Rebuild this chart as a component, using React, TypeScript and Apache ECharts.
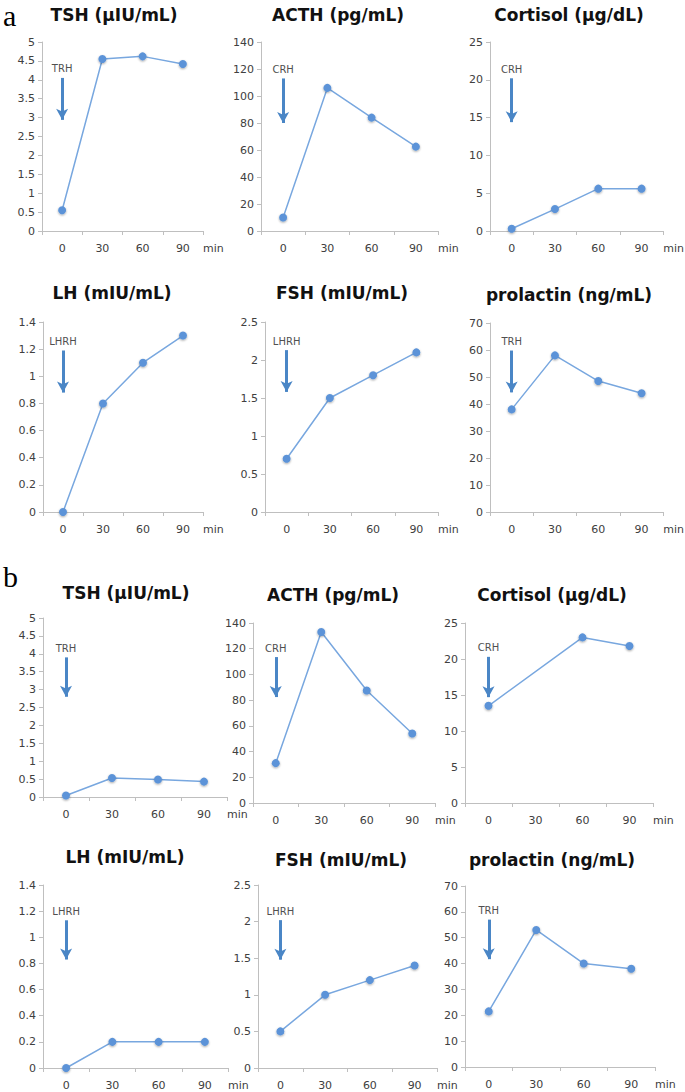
import React, { useEffect, useRef } from 'react';
import * as echarts from 'echarts';

// ---- data ----
const minutes = ['0', '30', '60', '90'];

// panel a (before)
const tshA = [0.55, 4.55, 4.62, 4.42];
const acthA = [10, 106, 84, 62.5];
const cortisolA = [0.3, 2.9, 5.6, 5.6];
const lhA = [0, 0.8, 1.1, 1.3];
const fshA = [0.7, 1.5, 1.8, 2.1];
const prolactinA = [38, 58, 48.5, 44];

// panel b (after)
const tshB = [0.04, 0.53, 0.49, 0.43];
const acthB = [31, 133, 87.5, 54];
const cortisolB = [13.5, null, 23, 21.8];
const lhB = [0, 0.2, 0.2, 0.2];
const fshB = [0.5, 1.0, 1.2, 1.4];
const prolactinB = [21.5, 53, 40, 38];

// axis ranges
const tshAxis = { max: 5, interval: 0.5 };
const acthAxis = { max: 140, interval: 20 };
const cortisolAxis = { max: 25, interval: 5 };
const lhAxis = { max: 1.4, interval: 0.2 };
const fshAxis = { max: 2.5, interval: 0.5 };
const prolactinAxis = { max: 70, interval: 10 };

// stimulus arrows (top, bottom in data units)
const stimTRH = 'TRH';
const stimCRH = 'CRH';
const stimLHRH = 'LHRH';

const panels = [
  { title: 'TSH (µIU/mL)', values: tshA, axis: tshAxis, stim: stimTRH, arrow: [4.05, 2.94] },
  { title: 'ACTH (pg/mL)', values: acthA, axis: acthAxis, stim: stimCRH, arrow: [113, 80] },
  { title: 'Cortisol (µg/dL)', values: cortisolA, axis: cortisolAxis, stim: stimCRH, arrow: [20.2, 14.4] },
  { title: 'LH (mIU/mL)', values: lhA, axis: lhAxis, stim: stimLHRH, arrow: [1.19, 0.88] },
  { title: 'FSH (mIU/mL)', values: fshA, axis: fshAxis, stim: stimLHRH, arrow: [2.13, 1.58] },
  { title: 'prolactin (ng/mL)', values: prolactinA, axis: prolactinAxis, stim: stimTRH, arrow: [59.8, 44.3] },
  { title: 'TSH (µIU/mL)', values: tshB, axis: tshAxis, stim: stimTRH, arrow: [3.9, 2.8] },
  { title: 'ACTH (pg/mL)', values: acthB, axis: acthAxis, stim: stimCRH, arrow: [113.5, 82.4] },
  { title: 'Cortisol (µg/dL)', values: cortisolB, axis: cortisolAxis, stim: stimCRH, arrow: [20.3, 14.7] },
  { title: 'LH (mIU/mL)', values: lhB, axis: lhAxis, stim: stimLHRH, arrow: [1.13, 0.83] },
  { title: 'FSH (mIU/mL)', values: fshB, axis: fshAxis, stim: stimLHRH, arrow: [2.02, 1.48] },
  { title: 'prolactin (ng/mL)', values: prolactinB, axis: prolactinAxis, stim: stimTRH, arrow: [57, 41.7] },
];

// ---- layout (pixels) ----
const gridBoxes = [
  [42, 42, 161, 189],
  [261, 42, 177, 189],
  [490, 42, 178, 189],
  [43, 322, 160, 190],
  [265, 322, 173, 190],
  [490, 323, 178, 189],
  [43, 618, 184, 179],
  [253, 623, 182, 180],
  [465, 623, 188, 180],
  [43, 885, 185, 183],
  [258, 885, 179, 183],
  [465, 886, 190, 181],
];
const titlePos = [
  [114, 15], [338, 15], [569, 15],
  [112, 293], [342, 293], [569, 295],
  [126, 593], [333, 595], [552, 595],
  [125, 857], [341, 860], [552, 860],
];

const AXIS_COLOR = '#bfbfbf';
const LABEL_COLOR = '#404040';
const LINE_COLOR = '#78a7df';
const DOT_COLOR = '#5b93d8';
const ARROW_COLOR = '#4a86c6';
const FONT = 'DejaVu Sans';

function fmt(v: number) {
  return String(+Number(v).toFixed(2));
}

export default function App() {
  const ref = useRef<HTMLDivElement>(null);
  useEffect(() => {
    if (!ref.current) return;
    const chart = echarts.init(ref.current, undefined, { renderer: 'svg' });
    const grid: any[] = [];
    const xAxis: any[] = [];
    const yAxis: any[] = [];
    const series: any[] = [];
    const graphic: any[] = [];

    panels.forEach((p, i) => {
      const [l, t, w, h] = gridBoxes[i];
      grid.push({ left: l, top: t, width: w, height: h, containLabel: false });
      xAxis.push({
        type: 'category',
        gridIndex: i,
        data: minutes,
        boundaryGap: true,
        name: 'min',
        nameLocation: 'end',
        nameGap: 0,
        nameTextStyle: {
          color: LABEL_COLOR,
          fontFamily: FONT,
          fontSize: 11,
          align: 'left',
          verticalAlign: 'top',
          padding: [12, 0, 0, 0],
        },
        axisLine: { show: true, lineStyle: { color: AXIS_COLOR, width: 1 } },
        axisTick: { show: true, length: 4, lineStyle: { color: AXIS_COLOR } },
        axisLabel: { color: LABEL_COLOR, fontFamily: FONT, fontSize: 11, margin: 12 },
        splitLine: { show: false },
      });
      yAxis.push({
        type: 'value',
        gridIndex: i,
        min: 0,
        max: p.axis.max,
        interval: p.axis.interval,
        axisLine: { show: true, lineStyle: { color: AXIS_COLOR, width: 1 } },
        axisTick: { show: true, length: 4, lineStyle: { color: AXIS_COLOR } },
        axisLabel: {
          color: LABEL_COLOR,
          fontFamily: FONT,
          fontSize: 11,
          margin: 7,
          formatter: (v: number) => fmt(v),
        },
        splitLine: { show: false },
      });
      series.push({
        type: 'line',
        xAxisIndex: i,
        yAxisIndex: i,
        data: p.values,
        connectNulls: true,
        symbol: 'circle',
        symbolSize: 8,
        showSymbol: true,
        lineStyle: { color: LINE_COLOR, width: 1.5 },
        itemStyle: {
          color: DOT_COLOR,
          shadowBlur: 2,
          shadowColor: 'rgba(0,0,0,0.35)',
          shadowOffsetY: 1,
        },
        emphasis: { disabled: true },
        silent: true,
        markLine: {
          silent: true,
          animation: false,
          symbol: ['none', 'arrow'],
          symbolSize: [9, 11],
          lineStyle: { color: ARROW_COLOR, width: 3, type: 'solid' },
          emphasis: { disabled: true },
          label: {
            show: true,
            position: 'start',
            distance: 4,
            formatter: p.stim,
            color: '#505050',
            fontFamily: FONT,
            fontSize: 10,
          },
          data: [[{ coord: [minutes[0], p.arrow[0]] }, { coord: [minutes[0], p.arrow[1]] }]],
        },
      });
      const [cx, cy] = titlePos[i];
      graphic.push({
        type: 'text',
        x: cx,
        y: cy,
        style: {
          text: p.title,
          font: `bold 17px "${FONT}"`,
          fill: '#111',
          textAlign: 'center',
          align: 'center',
          textVerticalAlign: 'middle',
          verticalAlign: 'middle',
        },
      });
    });

    graphic.push({
      type: 'text',
      x: 3,
      y: 0,
      style: { text: 'a', font: '30px "Liberation Serif"', fill: '#000', textVerticalAlign: 'top', verticalAlign: 'top' },
    });
    graphic.push({
      type: 'text',
      x: 3,
      y: 561,
      style: { text: 'b', font: '30px "Liberation Serif"', fill: '#000', textVerticalAlign: 'top', verticalAlign: 'top' },
    });

    chart.setOption({
      animation: false,
      backgroundColor: '#fff',
      grid,
      xAxis,
      yAxis,
      series,
      graphic,
    });
    return () => chart.dispose();
  }, []);

  return (
    <div
      ref={ref}
      style={{ position: 'absolute', left: 0, top: 0, width: 685, height: 1092, background: '#fff' }}
    />
  );
}
